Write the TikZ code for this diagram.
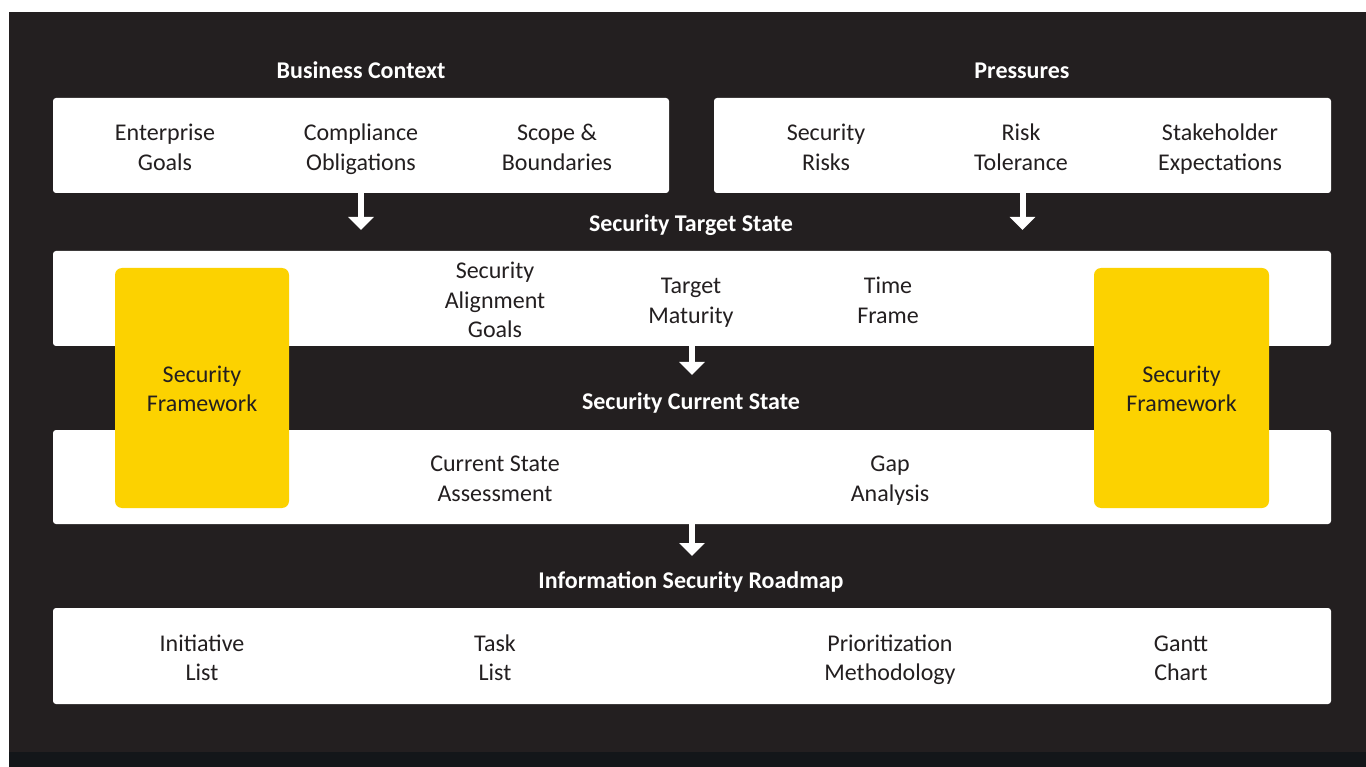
\documentclass[tikz,border=0pt]{standalone}
\usepackage{fontspec}
\setmainfont{Carlito}
\usetikzlibrary{arrows.meta}
\definecolor{bgdark}{HTML}{231F20}
\definecolor{bgstrip}{HTML}{131619}
\definecolor{fwyellow}{HTML}{FCD200}
\definecolor{txtdark}{HTML}{231F20}
\newcommand{\tl}[1]{\strut#1}
\tikzset{
  panel/.style={fill=white, rounded corners=3pt, inner sep=0pt, draw=none},
  fwbox/.style={fill=fwyellow, rounded corners=7pt, inner sep=0pt, minimum width=174pt, minimum height=240pt},
  item/.style={text=txtdark, font=\fontsize{24}{29.5}\selectfont, align=center, inner sep=0pt, yshift=-3pt},
  title/.style={text=white, font=\fontsize{24}{29.5}\selectfont\bfseries, align=center, inner sep=0pt, yshift=-3pt},
  flowarrow/.style={draw=white, line width=6pt, -{Triangle[width=25pt,length=13pt]}},
}
\begin{document}
\begin{tikzpicture}[x=1pt,y=-1pt]
\useasboundingbox (0,0) rectangle (1366,767);
\fill[white] (0,0) rectangle (1366,767);
\fill[bgdark] (9,12) rectangle (1366,752);
\fill[bgstrip] (9,752) rectangle (1366,767);

% panels
\node[panel, minimum width=616pt, minimum height=95pt] (bc) at (361,145.5) {};
\node[panel, minimum width=617pt, minimum height=95pt] (pr) at (1022.5,145.5) {};
\node[panel, minimum width=1278pt, minimum height=95pt] (ts) at (692,298.5) {};
\node[panel, minimum width=1278pt, minimum height=94pt] (cs) at (692,477) {};
\node[panel, minimum width=1278pt, minimum height=96pt] (rm) at (692,656) {};

% framework boxes
\node[fwbox] (fl) at (202,388) {};
\node[fwbox, minimum width=175pt] (fr) at (1181.5,388) {};
\node[item] (flt) at (fl.center) {\tl{Security}\\\tl{Framework}};
\node[item] (frt) at (fr.center) {\tl{Security}\\\tl{Framework}};

% titles
\node[title] (tbc) at (361,70) {\tl{Business Context}};
\node[title] (tpr) at (1022,70) {\tl{Pressures}};
\node[title] (tts) at (691,223) {\tl{Security Target State}};
\node[title] (tcs) at (691,401) {\tl{Security Current State}};
\node[title] (trm) at (691,580) {\tl{Information Security Roadmap}};

% items
\node[item] (i1) at (165,146.5) {\tl{Enterprise}\\\tl{Goals}};
\node[item] (i2) at (361,146.5) {\tl{Compliance}\\\tl{Obligations}};
\node[item] (i3) at (557,146.5) {\tl{Scope \&}\\\tl{Boundaries}};
\node[item] (i4) at (826,146.5) {\tl{Security}\\\tl{Risks}};
\node[item] (i5) at (1021,146.5) {\tl{Risk}\\\tl{Tolerance}};
\node[item] (i6) at (1220,146.5) {\tl{Stakeholder}\\\tl{Expectations}};

\node[item] (i7) at (495,299.5) {\tl{Security}\\\tl{Alignment}\\\tl{Goals}};
\node[item] (i8) at (691,299.5) {\tl{Target}\\\tl{Maturity}};
\node[item] (i9) at (888,299.5) {\tl{Time}\\\tl{Frame}};

\node[item] (i10) at (495,477.5) {\tl{Current State}\\\tl{Assessment}};
\node[item] (i11) at (890,477.5) {\tl{Gap}\\\tl{Analysis}};

\node[item] (i12) at (202,657) {\tl{Initiative}\\\tl{List}};
\node[item] (i13) at (495,657) {\tl{Task}\\\tl{List}};
\node[item] (i14) at (890,657) {\tl{Prioritization}\\\tl{Methodology}};
\node[item] (i15) at (1181,657) {\tl{Gantt}\\\tl{Chart}};

% arrows
\coordinate (a1) at (361,230);
\coordinate (a2) at (1022.5,230);
\coordinate (a3) at (692,375);
\coordinate (a4) at (692,556);
\draw[flowarrow] (bc.south) -- (a1);
\draw[flowarrow] (pr.south) -- (a2);
\draw[flowarrow] (ts.south) -- (a3);
\draw[flowarrow] (cs.south) -- (a4);
\end{tikzpicture}
\end{document}
